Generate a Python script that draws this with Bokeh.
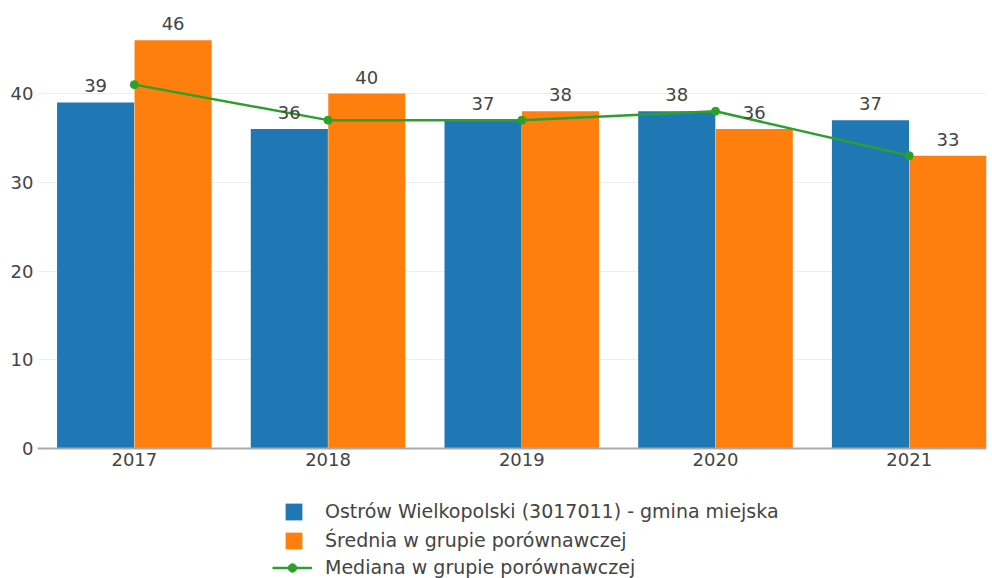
from bokeh.plotting import figure
from bokeh.models import ColumnDataSource, FixedTicker, Range1d, Legend, LegendItem, LabelSet
from bokeh.core.properties import value
from bokeh.transform import dodge
from bokeh.embed import file_html
from bokeh.resources import INLINE

years = ["2017", "2018", "2019", "2020", "2021"]
gmina = [39, 36, 37, 38, 37]
srednia = [46, 40, 38, 36, 33]
mediana = [41, 37, 37, 38, 33]
y_ticks = [0, 10, 20, 30, 40]

name_gmina = "Ostrów Wielkopolski (3017011) - gmina miejska"
name_sred = "Średnia w grupie porównawczej"
name_med = "Mediana w grupie porównawczej"

BLUE = "#1f77b4"
ORANGE = "#ff7f0e"
GREEN = "#2ca02c"
TXT = "#444444"
FONT = "DejaVu Sans"

xs = list(range(len(years)))
src = ColumnDataSource(dict(
    x=xs, gmina=gmina, srednia=srednia, mediana=mediana,
    gl=[str(v) for v in gmina], sl=[str(v) for v in srednia],
))

p = figure(width=992, height=578, output_backend="svg", toolbar_location=None,
           x_range=Range1d(-0.5, 4.399), y_range=Range1d(-14.648, 50.48),
           min_border_left=37, min_border_right=6, min_border_top=0, min_border_bottom=0)
p.outline_line_color = None
p.background_fill_color = "white"

bw = 0.398
r1 = p.vbar(x=dodge("x", -0.2, range=p.x_range), top="gmina", width=bw, source=src,
            fill_color=BLUE, line_color=None)
r2 = p.vbar(x=dodge("x", 0.2, range=p.x_range), top="srednia", width=bw, source=src,
            fill_color=ORANGE, line_color=None)
r3 = p.line(x="x", y="mediana", source=src, line_color=GREEN, line_width=2.5)
r4 = p.scatter(x="x", y="mediana", source=src, size=8, fill_color=GREEN, line_color=GREEN)

for col, lab, off in (("gmina", "gl", -0.2), ("srednia", "sl", 0.2)):
    p.add_layout(LabelSet(x=dodge("x", off, range=p.x_range), y=col, text=lab, source=src,
                          text_align="center", text_baseline="bottom", y_offset=10,
                          text_font=value(FONT), text_font_size="18px", text_color=TXT))

# axes
p.xaxis.fixed_location = 0
p.xaxis.ticker = FixedTicker(ticks=xs)
p.xaxis.major_label_overrides = {i: y for i, y in zip(xs, years)}
p.xaxis.major_tick_line_color = None
p.xaxis.minor_tick_line_color = None
p.xaxis.major_tick_out = 0
p.xaxis.major_label_standoff = 4
p.xaxis.axis_line_color = "#aaaaaa"
p.xaxis.axis_line_width = 2
p.xaxis.major_label_text_font = FONT
p.xaxis.major_label_text_font_size = "18px"
p.xaxis.major_label_text_color = TXT

p.yaxis.ticker = FixedTicker(ticks=y_ticks)
p.yaxis.axis_line_color = None
p.yaxis.major_tick_line_color = None
p.yaxis.minor_tick_line_color = None
p.yaxis.major_tick_out = 0
p.yaxis.major_label_standoff = 4
p.yaxis.major_label_text_font = FONT
p.yaxis.major_label_text_font_size = "18px"
p.yaxis.major_label_text_color = TXT

p.xgrid.grid_line_color = None
p.ygrid.ticker = FixedTicker(ticks=y_ticks[1:])
p.ygrid.grid_line_color = "#eeeeee"
p.ygrid.grid_line_width = 1

# legends (inside the extended frame, below the x axis)
leg1 = Legend(items=[LegendItem(label=name_gmina, renderers=[r1]),
                     LegendItem(label=name_sred, renderers=[r2])],
              location=(246, 27), glyph_width=21, glyph_height=21, label_height=21,
              spacing=7, padding=0, margin=0, label_standoff=21,
              border_line_color=None, background_fill_alpha=0,
              label_text_font=FONT, label_text_font_size="19px", label_text_color=TXT)
leg2 = Legend(items=[LegendItem(label=name_med, renderers=[r3, r4])],
              location=(235, 0), glyph_width=40, glyph_height=21, label_height=21,
              spacing=7, padding=0, margin=0, label_standoff=13,
              border_line_color=None, background_fill_alpha=0,
              label_text_font=FONT, label_text_font_size="19px", label_text_color=TXT)
p.add_layout(leg1, "center")
p.add_layout(leg2, "center")

open("out.html", "w").write(file_html(p, INLINE))
